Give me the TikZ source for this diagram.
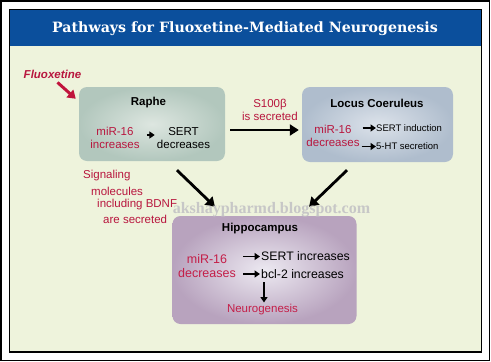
\documentclass[tikz,border=0pt]{standalone}
\usepackage{fontspec}
\setmainfont{Liberation Sans}
\newfontfamily\titlefont{DejaVu Serif}
\newfontfamily\wmfont{Liberation Serif}
\usetikzlibrary{arrows.meta,calc}
\definecolor{bgpanel}{HTML}{EEF3DC}
\definecolor{titleblue}{HTML}{0B4F9C}
\definecolor{txtred}{HTML}{B8163E}
\definecolor{hipred}{HTML}{C41E48}
\definecolor{arrowred}{HTML}{C0143C}
\tikzset{
  region/.style={rounded corners=8pt, draw=none, inner sep=0pt},
  boxtitle/.style={font=\bfseries\fontsize{11.5pt}{13pt}\selectfont, inner sep=0pt},
  redtxt/.style={text=txtred, font=\fontsize{11.5pt}{13.5pt}\selectfont, align=center, inner sep=0pt},
  blacktxt/.style={font=\fontsize{11.5pt}{13pt}\selectfont, align=center, inner sep=0pt},
  smalltxt/.style={font=\fontsize{9.5pt}{11pt}\selectfont, inner sep=0pt, anchor=west},
  bigarrow/.style={line width=2.8pt, -{Triangle[length=9pt,width=11pt]}},
  smallarrow/.style={line width=1.5pt, -{Triangle[length=5.5pt,width=7pt]}},
  redarrow/.style={draw=arrowred, line width=3pt, -{Triangle[length=8pt,width=10pt]}}
}
\begin{document}
\begin{tikzpicture}[x=1pt,y=-1pt]
\useasboundingbox (0,0) rectangle (491,362);
\fill[white] (0,0) rectangle (491,362);
\draw[line width=1.5pt] (1,1) rectangle (489.5,360.5);
\draw[line width=1.5pt, fill=bgpanel] (9.5,9.5) rectangle (481.5,352);
\fill[titleblue] (10.2,10.2) rectangle (480.8,46);
\node[text=white, font=\titlefont\bfseries\fontsize{14.2pt}{16pt}\selectfont, inner sep=0pt] (title) at (245,28.5) {Pathways for Fluoxetine-Mediated Neurogenesis};

% Raphe
\node[region, minimum width=146pt, minimum height=74pt, inner color={rgb,255:red,221;green,230;blue,224}, outer color={rgb,255:red,178;green,199;blue,189}] (raphe) at (152,124) {};
\node[boxtitle] (raphetitle) at (148.5,103) {Raphe};
\node[redtxt] (raphemir) at (115,138) {miR-16\\increases};
\node[blacktxt] (raphesert) at (183.5,138) {SERT\\decreases};
\draw[smallarrow] ($(raphemir.east)+(7,-3)$) -- ($(raphesert.west)+(-2,-3)$);

% Fluoxetine
\node[text=txtred, font=\bfseries\itshape\fontsize{11.5pt}{13pt}\selectfont, inner sep=0pt] (fluox) at (52.5,74) {Fluoxetine};
\draw[redarrow] ($(fluox.south)+(5,4)$) -- ($(raphe.north west)+(-3,12)$);

% Locus Coeruleus
\node[region, minimum width=151pt, minimum height=75pt, inner color={rgb,255:red,220;green,226;blue,234}, outer color={rgb,255:red,175;green,189;blue,205}] (lc) at (377.5,124.5) {};
\node[boxtitle] (lctitle) at (377,103) {Locus Coeruleus};
\node[redtxt] (lcmir) at (333,136) {miR-16\\decreases};
\node[smalltxt] (lcsert) at (376,128) {SERT induction};
\node[smalltxt] (lcht) at (376,146.5) {5-HT secretion};
\draw[smallarrow] ($(lcmir.east |- lcsert.west)+(3,0)$) -- (lcsert.west);
\draw[smallarrow] ($(lcmir.east |- lcht.west)+(2,0)$) -- (lcht.west);

% S100b
\node[redtxt] (s100) at (270,110) {S100β\\is secreted};
\draw[bigarrow] ($(raphe.east)+(5,6)$) -- ($(lc.west)+(-3,5.5)$);

% Signaling molecules
\node[redtxt, anchor=west] (sig1) at (83,176) {Signaling};
\node[redtxt, anchor=west] (sig2) at (91,191) {molecules};
\node[redtxt, anchor=west] (sig3) at (97,205) {including BDNF};
\node[redtxt, anchor=west] (sig4) at (103,219) {are secreted};

% Hippocampus
\node[region, minimum width=184pt, minimum height=108pt, inner color={rgb,255:red,236;green,233;blue,241}, outer color={rgb,255:red,184;green,163;blue,190}] (hippo) at (264.5,270) {};
\node[boxtitle] (hiptitle) at (260,228.5) {Hippocampus};
\node[redtxt, text=hipred, font=\fontsize{12.5pt}{13.5pt}\selectfont] (hipmir) at (207,266) {miR-16\\decreases};
\node[blacktxt, font=\fontsize{12.3pt}{13pt}\selectfont, anchor=west] (hipsert) at (261,256.5) {SERT increases};
\node[blacktxt, font=\fontsize{12.3pt}{13pt}\selectfont, anchor=west] (hipbcl) at (261,274) {bcl-2 increases};
\draw[smallarrow] (243,256.5) coordinate (h1) -- ($(hipsert.west)+(-1,0)$);
\draw[smallarrow] (243,274) coordinate (h2) -- ($(hipbcl.west)+(-1,0)$);
\node[redtxt, text=hipred, font=\fontsize{11.5pt}{13pt}\selectfont] (neuro) at (262.5,310) {Neurogenesis};
\draw[smallarrow] (264,282) coordinate (h3) -- (264,302.5) coordinate (h4);

\draw[bigarrow] ($(raphe.south)+(25,9)$) -- ($(hippo.north)+(-49.5,-9)$);
\draw[bigarrow] ($(lc.south)+(-30.5,8)$) -- ($(hippo.north)+(44.5,-9)$);

% watermark
\node[text=black!22, font=\wmfont\bfseries\fontsize{16pt}{18pt}\selectfont, inner sep=0pt] (wm) at (271.5,210) {akshaypharmd.blogspot.com};
\end{tikzpicture}
\end{document}
